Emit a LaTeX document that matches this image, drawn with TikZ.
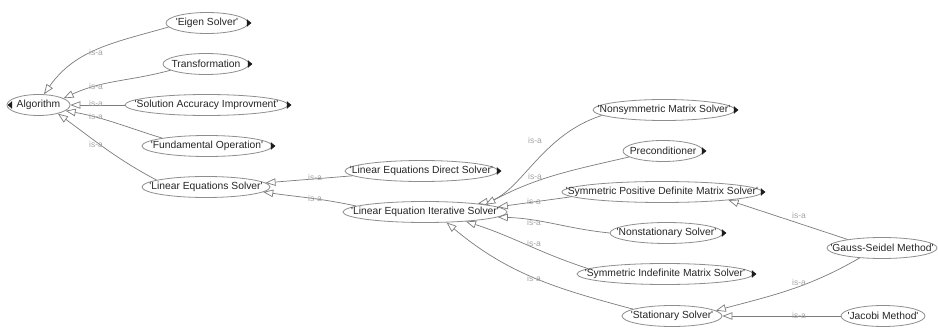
\documentclass[tikz,border=0pt]{standalone}
\usepackage{fontspec}
\setmainfont{Liberation Sans}
\usetikzlibrary{arrows.meta,shapes.geometric}

\definecolor{edgegray}{HTML}{7C7C7C}
\definecolor{rimgray}{HTML}{8E8E8E}
\definecolor{labelgray}{HTML}{A4A4A4}
\definecolor{textdark}{HTML}{262626}
\definecolor{markdark}{HTML}{1C1C1C}

\newcommand\ctext[1]{\makebox[0pt]{#1}}
\newcommand\qq[1]{\textquotesingle#1\textquotesingle}

\tikzset{
  concept/.style={ellipse, draw=rimgray, line width=0.8pt, fill=white,
    inner sep=0pt, minimum height=21pt, text=textdark,
    font=\fontsize{10.3}{12}\selectfont},
  isa/.style={draw=edgegray, line width=0.7pt,
    -{Triangle[length=10pt,width=7.5pt,fill=white,line width=0.7pt]}},
  isalabel/.style={text=labelgray, font=\fontsize{8.5}{9}\selectfont, inner sep=0pt},
  expander/.style={fill=markdark},
}

\begin{document}
\begin{tikzpicture}[x=1pt,y=1pt]
\fill[white] (0,0) rectangle (938,-334);
\useasboundingbox (0,0) rectangle (938,-334);

% concepts
\node[concept, minimum width=63pt]  (alg) at (38.5,-105) {\ctext{Algorithm}};
\node[concept, minimum width=82pt]  (eig) at (207,-23)   {\ctext{\qq{Eigen Solver}}};
\node[concept, minimum width=86pt]  (trf) at (206,-64)   {\ctext{Transformation}};
\node[concept, minimum width=163pt] (sol) at (206.5,-105){\ctext{\qq{Solution Accuracy Improvment}}};
\node[concept, minimum width=130pt] (fun) at (207,-146)  {\ctext{\qq{Fundamental Operation}}};
\node[concept, minimum width=128pt] (les) at (206,-187)  {\ctext{\qq{Linear Equations Solver}}};
\node[concept, minimum width=153pt] (dir) at (421.5,-171){\ctext{\qq{Linear Equations Direct Solver}}};
\node[concept, minimum width=164pt] (itr) at (425,-212)  {\ctext{\qq{Linear Equation Iterative Solver}}};
\node[concept, minimum width=142pt] (nsm) at (664,-110)  {\ctext{\qq{Nonsymmetric Matrix Solver}}};
\node[concept, minimum width=80pt]  (pre) at (663,-151)  {\ctext{Preconditioner}};
\node[concept, minimum width=200pt] (spd) at (662,-192)  {\ctext{\qq{Symmetric Positive Definite Matrix Solver}}};
\node[concept, minimum width=113pt] (nst) at (666.5,-233){\ctext{\qq{Nonstationary Solver}}};
\node[concept, minimum width=176pt] (sim) at (665,-274)  {\ctext{\qq{Symmetric Indefinite Matrix Solver}}};
\node[concept, minimum width=100pt] (sta) at (672,-316)  {\ctext{\qq{Stationary Solver}}};
\node[concept, minimum width=110pt] (gau) at (882,-248)  {\ctext{\qq{Gauss-Seidel Method}}};
\node[concept, minimum width=84pt]  (jac) at (883,-316)  {\ctext{\qq{Jacobi Method}}};

% expand / collapse markers
\fill[expander] ([shift={(5.5,3.8)}]alg.west) -- ++(-4.5,-3.8) -- ++(4.5,-3.8) -- cycle;
\foreach \n in {eig,trf,sol,fun,dir,nsm,pre,spd,nst,sim}
  \fill[expander] ([shift={(-1.5,3.8)}]\n.east) -- ++(4.5,-3.8) -- ++(-4.5,-3.8) -- cycle;

% is-a links
\draw[isa] (eig.186) to[out=196,in=55] (alg.63);
\draw[isa] (trf.190) to[out=195,in=25] (alg.15);
\draw[isa] (sol.west) -- (alg.east);
\draw[isa] (fun.170) to[out=163,in=-10] (alg.-12);
\draw[isa] (les.172) to[out=152,in=-36] (alg.336);
\draw[isa] (dir.184) -- (les.4);
\draw[isa] (itr.175) to[out=168,in=-8] (les.355);
\draw[isa] (nsm.185) .. controls (540,-135) and (520,-195) .. (itr.9);
\draw[isa] (pre.190) to[out=193,in=28] (itr.7);
\draw[isa] (spd.183) -- (itr.4);
\draw[isa] (nst.west) to[out=174,in=-2] (itr.356);
\draw[isa] (sim.176) to[out=162,in=-18] (itr.347);
\draw[isa] (sta.170) to[out=165,in=-40] (itr.334);
\draw[isa] (gau.166) -- (spd.353);
\draw[isa] (gau.204) to[out=210,in=15] (sta.7);
\draw[isa] (jac.west) -- (sta.east);

% link labels
\foreach \p in {(96,-52),(96,-86),(96,-103),(96,-116),(96,-144),
                (315,-177),(315,-198),
                (535,-140),(535,-176),(534,-201),(534,-222),(534,-243),(534,-278),
                (799,-215),(799,-282),(799,-315)}
  \node[isalabel] at \p {is-a};
\end{tikzpicture}
\end{document}
